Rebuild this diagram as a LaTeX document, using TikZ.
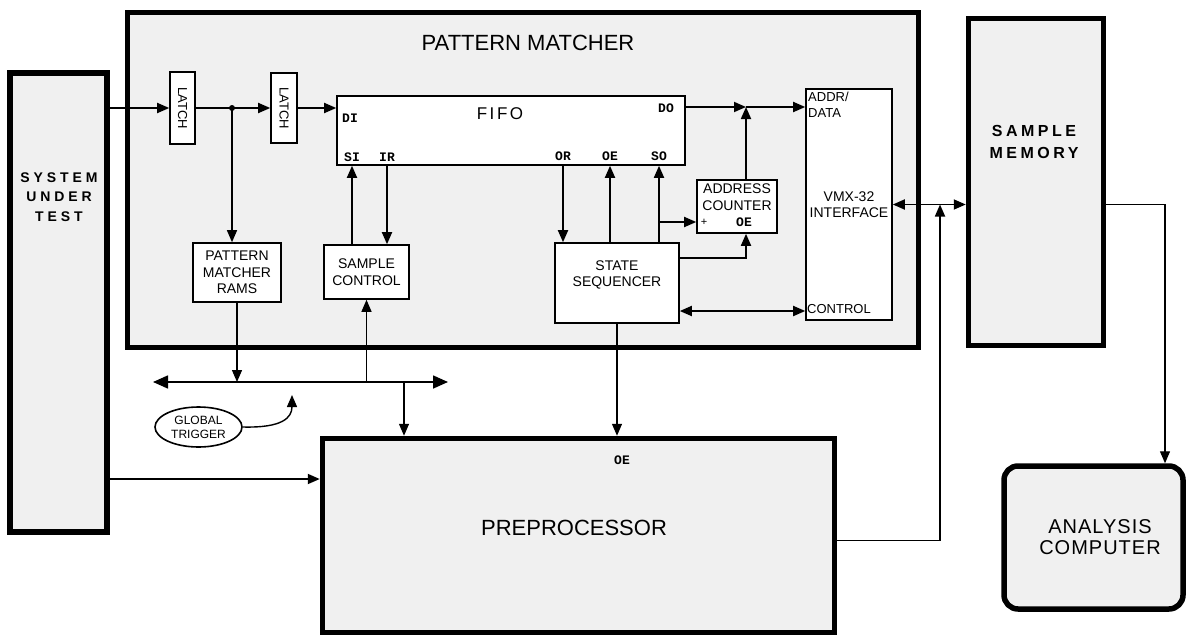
\documentclass[tikz,border=0pt]{standalone}
\usepackage{fontspec}
\setmainfont{Liberation Sans}
\newfontfamily\pinface{Liberation Mono}
\newfontfamily\wideface[LetterSpace=28]{Liberation Sans}
\newfontfamily\memface[LetterSpace=22]{Liberation Sans}
\newfontfamily\fifoface[LetterSpace=15]{Liberation Sans}
\newfontfamily\compface[LetterSpace=5]{Liberation Sans}
\usepackage{tikz}
\usetikzlibrary{arrows.meta}
\usetikzlibrary{shapes.geometric}
\newcommand{\boxfont}{\fontsize{14}{16.5}\selectfont}
\newcommand{\pinfont}{\pinface\bfseries\fontsize{13}{13}\selectfont}
\newcommand{\bigfont}{\fontsize{22}{22}\selectfont}

\begin{document}
\begin{tikzpicture}[x=1pt,y=-1pt,
  >={Triangle[length=12pt,width=10pt]},
  bigbox/.style={draw,line width=5.5pt,fill=black!6,inner sep=0pt},
  box/.style={draw,line width=1.6pt,fill=white,font=\boxfont,align=center,inner sep=0pt},
  pin/.style={font=\pinfont,inner sep=0pt},
  arr/.style={->,line width=1.8pt},
  darr/.style={<->,line width=1.8pt},
  thinarr/.style={->,line width=1.3pt}]
\useasboundingbox (0,0) rectangle (1188,637);
\fill[white] (0,0) rectangle (1188,637);

% ---------- big blocks ----------
\node[bigbox,minimum width=97pt,minimum height=459pt] (sut) at (58.5,302.5) {};
\node[font=\wideface\bfseries\fontsize{14}{19.5}\selectfont,align=center] (sutlbl) at (59,197) {SYSTEM\\UNDER\\TEST};
\node[bigbox,minimum width=791pt,minimum height=335pt] (pm) at (523,180) {};
\node[font=\bigfont] (pmlbl) at (528,43) {PATTERN MATCHER};
\node[bigbox,minimum width=135pt,minimum height=327pt] (sm) at (1036,182) {};
\node[font=\memface\bfseries\fontsize{16}{22}\selectfont,align=center] (smlbl) at (1034,142) {SAMPLE\\MEMORY};
\node[bigbox,minimum width=512pt,minimum height=194pt] (pre) at (578.5,535.5) {};
\node[font=\bigfont] (prelbl) at (574,528) {PREPROCESSOR};
\node[bigbox,rounded corners=14pt,minimum width=179pt,minimum height=143pt] (ac) at (1093.5,537.5) {};
\node[font=\compface\fontsize{20}{21}\selectfont,align=center] (aclbl) at (1100,537) {ANALYSIS\\COMPUTER};

% ---------- inside the pattern matcher ----------
\node[box,rotate=-90,minimum width=72pt,minimum height=25pt,font=\fontsize{13}{13}\selectfont] (latch1) at (182.5,108) {LATCH};
\node[box,rotate=-90,minimum width=70pt,minimum height=26pt,font=\fontsize{13}{13}\selectfont] (latch2) at (284,108) {LATCH};
\node[box,minimum width=348pt,minimum height=69pt] (fifo) at (511,130.5) {};
\node[font=\fifoface\fontsize{17}{17}\selectfont] (fifolbl) at (500,114) {FIFO};
\node[box,minimum width=88pt,minimum height=59pt] (rams) at (237,272.5) {PATTERN\\MATCHER\\RAMS};
\node[box,minimum width=85pt,minimum height=54pt] (sc) at (366.5,272) {SAMPLE\\CONTROL};
\node[box,minimum width=124pt,minimum height=80pt] (ss) at (617,283) {};
\node[font=\boxfont,align=center] (sslbl) at (617,275) {STATE\\SEQUENCER};
\node[box,minimum width=80pt,minimum height=53pt] (cnt) at (737,206.5) {};
\node[font=\boxfont,align=center] (cntlbl) at (737,197) {ADDRESS\\COUNTER};
\node[box,minimum width=86pt,minimum height=231pt] (vmx) at (849,204.5) {VMX-32\\INTERFACE};
\node[font=\fontsize{13}{16}\selectfont,align=left,anchor=north west,inner sep=0pt] (vmxad) at (808,92) {ADDR/\\DATA};
\node[font=\fontsize{13}{13}\selectfont,anchor=west,inner sep=0pt] (vmxctl) at (807,309) {CONTROL};

% pin names
\node[pin] (pinDI) at (350,118) {DI};
\node[pin] (pinSI) at (352,157) {SI};
\node[pin] (pinIR) at (387,157) {IR};
\node[pin] (pinOR) at (563,156) {OR};
\node[pin] (pinOE) at (610,156) {OE};
\node[pin] (pinSO) at (659,156) {SO};
\node[pin] (pinDO) at (666,108) {DO};
\node[pin] (cntOE) at (744,222) {OE};
\node[font=\fontsize{11}{11}\selectfont,inner sep=0pt] (cntplus) at (704,222) {+};
\node[pin] (preOE) at (622,460) {OE};

% ---------- data path ----------
\draw[arr] (sut.east |- latch1.south) -- (latch1.south); % rotated: south = left
\coordinate (tap) at (232,108);
\draw[arr] (latch1.north) -- (latch2.south);
\fill (tap) circle (3pt);
\draw[arr] (latch2.north) -- (fifo.west |- latch2.north);
\draw[thinarr] (tap) -- (rams.north -| tap);
\draw[arr] (sc.north -| pinSI) -- (fifo.south -| pinSI);
\draw[arr] (fifo.south -| pinIR) -- (sc.north -| pinIR);
\draw[arr] (fifo.south -| pinOR) -- (ss.north -| pinOR);
\draw[arr] (ss.north -| pinOE) -- (fifo.south -| pinOE);
\draw[arr] (ss.north -| pinSO) -- (fifo.south -| pinSO);
\draw[arr] (pinSO |- cntplus) -- (cnt.west |- cntplus);

\coordinate (jn) at (746,107);
\draw[arr] (fifo.east |- jn) -- (jn);
\draw[arr] (jn) -- (vmx.west |- jn);
\draw[arr] (cnt.north -| jn) -- (jn);
\draw[arr] ([yshift=25pt]ss.east) -| (cnt.south -| jn);
\coordinate (ctl) at ([yshift=-28pt]ss.east);
\draw[darr] (ctl) -- (vmx.west |- ctl);

% ---------- right side ----------
\coordinate (jv) at (940,204.5);
\draw[darr] (vmx.east) -- (sm.west |- vmx.east);
\draw[arr] ([yshift=-5pt]pre.east) -| (jv);
\coordinate (acx) at (1165,0);
\draw[thinarr] (sm.east |- vmx.east) -| (ac.north -| acx);

% ---------- trigger bus ----------
\coordinate (busl) at (153,382);
\coordinate (busr) at (448,382);
\coordinate (busdn) at (404,382);
\draw[<->,line width=1.6pt,>={Triangle[length=15pt,width=13pt]}] (busl) -- (busr);
\draw[thinarr] (rams.south) -- (rams.south |- busl);
\draw[thinarr] (sc.south |- busl) -- (sc.south);
\draw[thinarr] (busdn) -- (pre.north -| busdn);
\draw[thinarr] (ss.south) -- (pre.north -| ss.south);
\coordinate (prein) at (322,479);
\draw[arr] (sut.east |- prein) -- (pre.west |- prein);

\node[ellipse,draw,line width=1.6pt,fill=white,minimum width=87pt,minimum height=40pt,inner sep=0pt,
  align=center,font=\fontsize{12}{14}\selectfont] (gt) at (198.5,427) {GLOBAL\\TRIGGER};
\coordinate (gtend) at (292,395);
\draw[arr,line width=1.4pt] (gt.east) .. controls (282,428) and (292,418) .. (gtend);

\end{tikzpicture}
\end{document}
